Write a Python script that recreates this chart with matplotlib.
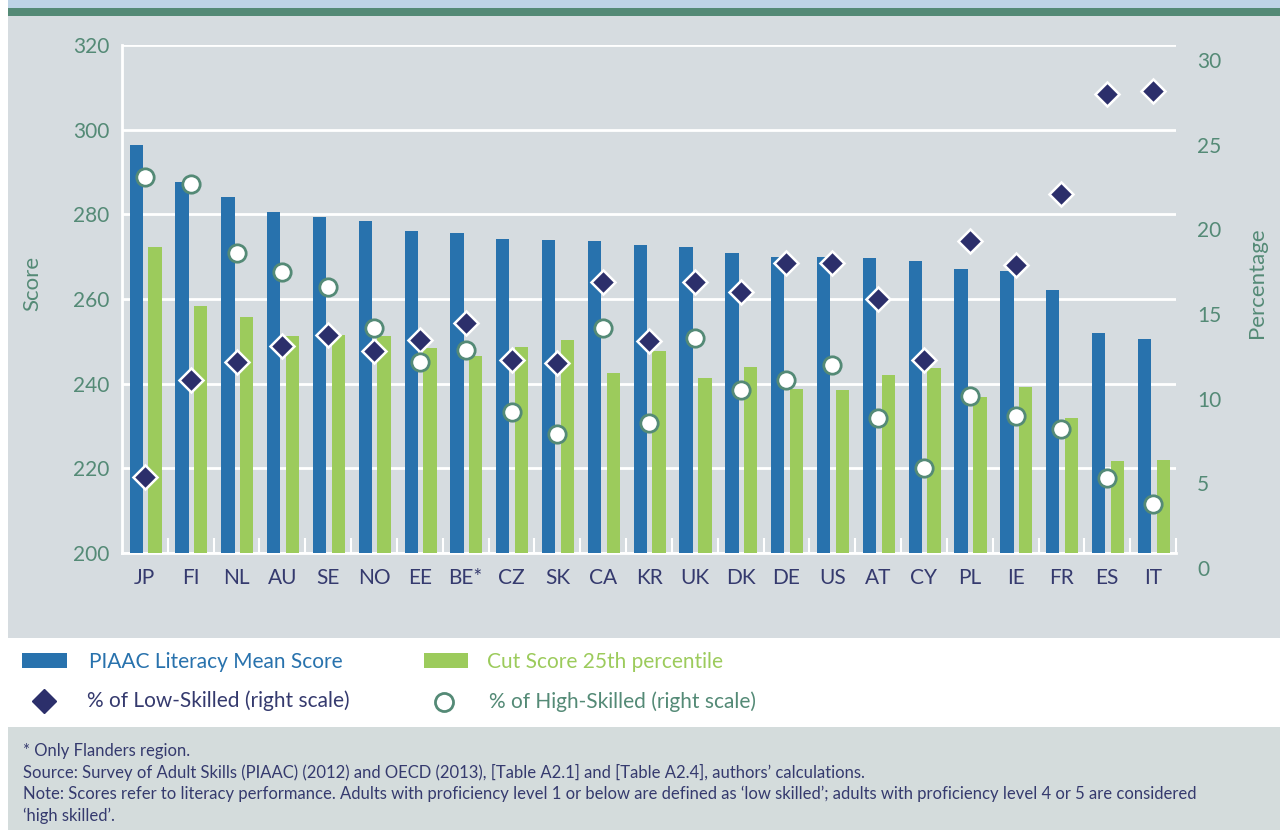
import numpy as np
import matplotlib
matplotlib.use('Agg')
from matplotlib import pyplot as plt
from matplotlib.patches import Rectangle
from matplotlib.lines import Line2D
import matplotlib.transforms as mtransforms

# ============= data ===========================================
countries = ['JP', 'FI', 'NL', 'AU', 'SE', 'NO', 'EE', 'BE*', 'CZ', 'SK', 'CA', 'KR',
             'UK', 'DK', 'DE', 'US', 'AT', 'CY', 'PL', 'IE', 'FR', 'ES', 'IT']
mean_score = [296.4, 287.6, 284.1, 280.6, 279.4, 278.4, 276.1, 275.6, 274.2, 274.0, 273.7, 272.8,
              272.4, 270.9, 269.9, 269.9, 269.7, 269.0, 267.1, 266.6, 262.1, 252.0, 250.6]
cut_score_p25 = [272.3, 258.4, 255.8, 251.3, 251.5, 251.3, 248.4, 246.5, 248.7, 250.3, 242.5, 247.7,
                 241.3, 243.9, 238.7, 238.5, 242.0, 243.7, 236.9, 239.2, 231.9, 221.7, 222.0]
low_skilled = [5.5, 11.2, 12.3, 13.2, 13.9, 12.9, 13.6, 14.6, 12.4, 12.2, 17.0, 13.5,
               17.0, 16.4, 18.1, 18.1, 16.0, 12.4, 19.4, 18.0, 22.2, 28.1, 28.3]
high_skilled = [23.2, 22.8, 18.7, 17.6, 16.7, 14.3, 12.3, 13.0, 9.3, 8.0, 14.3, 8.7,
                13.7, 10.6, 11.2, 12.1, 9.0, 6.0, 10.3, 9.1, 8.3, 5.4, 3.9]
left_ticks = [200, 220, 240, 260, 280, 300, 320]
right_ticks = [0, 5, 10, 15, 20, 25, 30]

footnotes = ['* Only Flanders region.',
             'Source: Survey of Adult Skills (PIAAC) (2012) and OECD (2013), [Table A2.1] and [Table A2.4], authors\u2019 calculations.',
             'Note: Scores refer to literacy performance. Adults with proficiency level 1 or below are defined as \u2018low skilled\u2019; adults with proficiency level 4 or 5 are considered',
             '\u2018high skilled\u2019.']

# colours
bg_gray = '#d6dce0'
foot_gray = '#d4dcdc'
teal = '#548a76'
blue = '#2872ad'
green = '#9ccb5c'
navy = '#2c2f6b'
text_navy = '#353a6e'

plt.rcParams['font.family'] = ['Lato', 'DejaVu Sans']

W, H = 1280, 830
fig = plt.figure(figsize=(W / 100, H / 100), dpi=100)
fig.patch.set_facecolor('white')


def px(x, y):
    # pixel coords (top-left origin) -> figure fraction
    return x / W, 1 - y / H


def fig_rect(x0, y0, x1, y1, color):
    fx, fy = px(x0, y1)
    fig.patches.append(Rectangle((fx, fy), (x1 - x0) / W, (y1 - y0) / H, transform=fig.transFigure,
                                 facecolor=color, edgecolor='none', zorder=-10))


# background bands
fig_rect(8, 0, W, 8, '#bdd3e6')
fig_rect(8, 8, W, 16, teal)
fig_rect(8, 16, W, 638, bg_gray)
fig_rect(8, 727, W, H, foot_gray)

# main axes
ax_l, ax_r, ax_t, ax_b = 122, 1176, 45, 553
ax = fig.add_axes([ax_l / W, 1 - ax_b / H, (ax_r - ax_l) / W, (ax_b - ax_t) / H])
ax.set_facecolor('none')

x = np.arange(len(countries))
ax.bar(x - 0.19, [m - 200 for m in mean_score], bottom=200, width=0.29, color=blue, zorder=3)
ax.bar(x + 0.22, [c - 200 for c in cut_score_p25], bottom=200, width=0.29, color=green, zorder=3)

ax.set_xlim(-0.5, len(countries) - 0.5)
ax.set_ylim(200, 320)
ax.set_yticks(left_ticks)
ax.yaxis.grid(True, color='white', linewidth=2, zorder=1)
ax.set_axisbelow(True)
for s in ['top', 'right']:
    ax.spines[s].set_visible(False)
for s in ['left', 'bottom']:
    ax.spines[s].set_color('white')
    ax.spines[s].set_linewidth(2)
ax.tick_params(axis='y', length=0, pad=9, labelsize=15, labelcolor=teal)
ax.set_xticks(x)
ax.set_xticklabels(countries)
ax.tick_params(axis='x', which='major', length=0, pad=11, labelsize=15, labelcolor=text_navy)
ax.set_xticks(np.arange(0.5, len(countries), 1), minor=True)
ax.tick_params(axis='x', which='minor', direction='in', length=11, width=1.5, color='white')
fig.text(*px(32, 283), 'Score', rotation=90, ha='center', va='center', fontsize=16, color=teal)

# right scale
ax2 = ax.twinx()
ax2.set_ylim(1, 31)
ax2.set_yticks([])
for s in ax2.spines.values():
    s.set_visible(False)
trans = mtransforms.blended_transform_factory(ax2.transAxes, ax2.transData)
for t in right_ticks:
    ax2.text(1.02, t, str(t), transform=trans, ha='left', va='center', fontsize=15,
             color=teal, clip_on=False)
fig.text(*px(1257, 283), 'Percentage', rotation=90, ha='center', va='center', fontsize=16, color=teal)

ax2.plot(x, low_skilled, linestyle='none', marker='D', markersize=12, markerfacecolor=navy,
         markeredgecolor='white', markeredgewidth=1.8, zorder=5, clip_on=False)
ax2.plot(x, high_skilled, linestyle='none', marker='o', markersize=12.5, markerfacecolor='white',
         markeredgecolor=teal, markeredgewidth=2, zorder=6, clip_on=False)

# legend, drawn by hand
fig_rect(22, 653, 67, 668, blue)
fig_rect(424, 653, 468, 668, green)
fig.text(*px(89, 662), 'PIAAC Literacy Mean Score', fontsize=15, color=blue, va='center')
fig.text(*px(487, 662), 'Cut Score 25th percentile', fontsize=15, color=green, va='center')
fig.add_artist(Line2D([px(44, 701)[0]], [px(44, 701)[1]], transform=fig.transFigure, marker='D',
                      markersize=12, color=navy, linestyle='none'))
fig.add_artist(Line2D([px(444, 702)[0]], [px(444, 702)[1]], transform=fig.transFigure, marker='o',
                      markersize=13, markerfacecolor='white', markeredgecolor=teal,
                      markeredgewidth=2, linestyle='none'))
fig.text(*px(87, 701), '% of Low-Skilled (right scale)', fontsize=15, color=text_navy, va='center')
fig.text(*px(489, 702), '% of High-Skilled (right scale)', fontsize=15, color=teal, va='center')

# footnotes
for i, line in enumerate(footnotes):
    fig.text(*px(23, 751 + i * 21.5), line, fontsize=12, color=text_navy, va='center')

fig.savefig('out.png', dpi=100, facecolor=fig.get_facecolor())
